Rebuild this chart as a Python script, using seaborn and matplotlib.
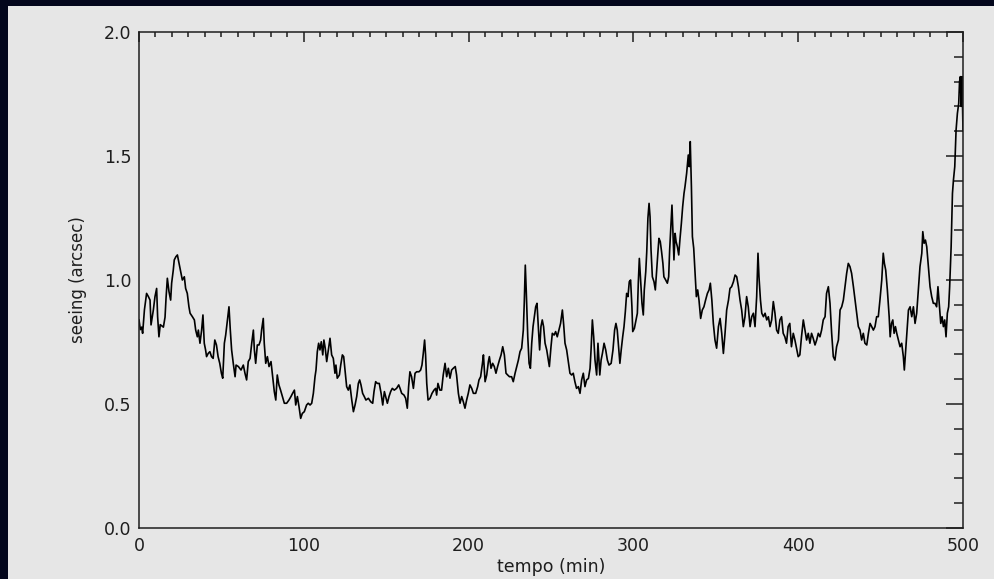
import matplotlib
matplotlib.use("Agg")
import matplotlib.pyplot as plt
from matplotlib.patches import Rectangle
from matplotlib.ticker import MultipleLocator, FixedLocator
import pandas as pd
import seaborn as sns

# ---------------- data ----------------
tempo_a = [0.0, 0.8, 1.6, 2.2, 3.3, 4.6, 5.7, 6.7, 7.3, 8.7,
           9.7, 10.7, 11.3, 12.1, 12.9, 14.8, 15.8, 16.4, 17.2, 18.2,
           19.2, 19.8, 20.8, 21.4, 22.4, 23.3, 24.3, 25.3, 26.3, 27.5,
           28.3, 29.3, 30.3, 31.0, 32.4, 33.6, 34.4, 35.4, 36.0, 37.0,
           38.0, 38.8, 39.6, 40.4, 41.0, 42.0, 43.0, 44.0, 45.0, 46.0,
           47.0, 48.0, 49.0, 50.0, 50.8, 51.8, 52.6, 53.8, 54.6, 55.4,
           56.2, 57.2, 58.3, 58.9, 60.3, 61.9, 63.3, 64.3, 65.3, 66.3,
           67.4, 68.4, 69.4, 70.0, 70.8, 71.8, 72.8, 73.8, 74.4, 75.4,
           76.0, 76.9, 77.9, 78.9, 80.1, 80.9, 82.1, 83.0, 83.9, 84.9,
           85.9, 87.0, 88.2, 89.6, 91.0, 92.2, 93.2, 94.3, 95.1, 96.1,
           97.1, 98.1, 99.1, 100.3]
seeing_a = [0.84, 0.80, 0.81, 0.785, 0.88, 0.946, 0.933, 0.919, 0.819, 0.879,
            0.933, 0.966, 0.852, 0.771, 0.82, 0.81, 0.85, 0.926, 1.007, 0.953,
            0.919, 0.987, 1.04, 1.081, 1.094, 1.101, 1.067, 1.034, 1.0, 1.013,
            0.966, 0.946, 0.892, 0.866, 0.852, 0.839, 0.798, 0.771, 0.798, 0.745,
            0.798, 0.859, 0.745, 0.718, 0.691, 0.704, 0.711, 0.691, 0.684, 0.758,
            0.738, 0.691, 0.664, 0.624, 0.604, 0.745, 0.778, 0.845, 0.892, 0.798,
            0.718, 0.664, 0.610, 0.657, 0.651, 0.637, 0.657, 0.624, 0.597, 0.671,
            0.684, 0.745, 0.798, 0.718, 0.664, 0.738, 0.738, 0.758, 0.798, 0.845,
            0.745, 0.664, 0.691, 0.651, 0.671, 0.624, 0.550, 0.516, 0.617, 0.577,
            0.556, 0.530, 0.503, 0.503, 0.516, 0.530, 0.543, 0.556, 0.496, 0.530,
            0.489, 0.442, 0.462, 0.469]

tempo_b = [101.7, 102.7, 103.8, 104.8, 105.8, 106.8, 107.4, 108.2, 109.0, 109.8,
           110.6, 111.5, 112.2, 113.0, 113.9, 114.9, 115.9, 116.9, 117.9, 118.9,
           119.5, 120.3, 121.6, 122.4, 123.4, 124.2, 125.0, 126.0, 127.0, 128.0,
           129.1, 130.1, 131.1, 132.1, 133.1, 133.9, 134.7, 135.7, 136.7, 137.7,
           139.2, 140.6, 141.8, 142.6, 143.6, 144.6, 145.8, 146.9, 147.9, 148.9,
           149.9, 150.7, 151.7, 152.7, 153.7, 154.9, 156.3, 157.6, 158.4, 159.4,
           160.8, 161.8, 162.8, 163.6, 164.4, 165.4, 166.5, 167.5, 168.5, 169.9,
           170.9, 171.7, 172.5, 173.3, 173.9, 174.6, 175.4, 176.6, 177.8, 179.0,
           180.0, 180.6, 181.4, 182.6, 183.6, 184.6, 185.7, 186.7, 187.7, 188.7,
           189.7, 190.7, 191.9, 192.7, 193.8, 194.8, 195.8, 196.8, 197.8, 198.8,
           199.8]
seeing_b = [0.496, 0.503, 0.496, 0.503, 0.543, 0.610, 0.637, 0.711, 0.745, 0.718,
            0.751, 0.698, 0.758, 0.725, 0.671, 0.718, 0.765, 0.698, 0.684, 0.624,
            0.657, 0.604, 0.617, 0.657, 0.698, 0.691, 0.637, 0.570, 0.556, 0.577,
            0.516, 0.469, 0.496, 0.530, 0.583, 0.597, 0.577, 0.543, 0.530, 0.516,
            0.523, 0.509, 0.503, 0.550, 0.590, 0.583, 0.583, 0.543, 0.496, 0.550,
            0.523, 0.503, 0.530, 0.550, 0.563, 0.556, 0.563, 0.577, 0.563, 0.543,
            0.536, 0.523, 0.483, 0.570, 0.630, 0.610, 0.563, 0.624, 0.630, 0.630,
            0.637, 0.657, 0.704, 0.758, 0.698, 0.583, 0.516, 0.523, 0.543, 0.556,
            0.563, 0.536, 0.583, 0.556, 0.556, 0.617, 0.664, 0.610, 0.644, 0.604,
            0.637, 0.644, 0.651, 0.617, 0.543, 0.503, 0.530, 0.509, 0.483, 0.516,
            0.543]

tempo_c = [200.8, 201.9, 202.9, 204.3, 205.5, 206.3, 207.3, 208.4, 209.0, 210.0,
           211.0, 212.0, 212.6, 213.6, 214.6, 215.6, 216.6, 217.6, 218.7, 219.7,
           220.7, 221.7, 222.7, 223.7, 224.8, 226.1, 227.1, 228.2, 229.2, 230.2,
           231.2, 232.2, 233.2, 233.8, 234.4, 235.0, 235.9, 236.7, 237.5, 238.3,
           239.1, 239.9, 240.7, 241.5, 242.3, 243.1, 243.9, 244.7, 245.5, 246.4,
           247.4, 248.4, 249.0, 250.0, 250.8, 251.9, 252.8, 253.8, 254.8, 255.8,
           256.9, 257.7, 258.5, 259.5, 260.5, 261.5, 262.5, 263.5, 264.5, 265.5,
           266.6, 267.6, 268.6, 269.6, 270.6, 271.6, 272.7, 273.7, 274.3, 275.1,
           275.9, 276.7, 277.7, 278.5, 279.6, 280.4, 281.2, 282.2, 283.2, 284.2,
           285.2, 286.5, 287.6, 288.6, 289.4, 290.2, 291.0, 291.8, 292.6, 293.5,
           294.3, 295.1, 295.9, 296.7, 297.5, 298.3]
seeing_c = [0.577, 0.563, 0.543, 0.543, 0.570, 0.597, 0.610, 0.664, 0.698, 0.590,
            0.617, 0.671, 0.691, 0.644, 0.664, 0.651, 0.624, 0.651, 0.677, 0.698,
            0.731, 0.698, 0.624, 0.617, 0.610, 0.610, 0.590, 0.624, 0.651, 0.677,
            0.711, 0.725, 0.798, 0.913, 1.060, 0.953, 0.771, 0.664, 0.644, 0.745,
            0.812, 0.852, 0.892, 0.906, 0.812, 0.718, 0.812, 0.839, 0.812, 0.745,
            0.718, 0.677, 0.651, 0.731, 0.785, 0.778, 0.792, 0.771, 0.798, 0.825,
            0.879, 0.819, 0.745, 0.718, 0.671, 0.624, 0.617, 0.624, 0.590, 0.563,
            0.570, 0.543, 0.597, 0.624, 0.570, 0.597, 0.603, 0.644, 0.718, 0.839,
            0.771, 0.677, 0.617, 0.745, 0.617, 0.677, 0.704, 0.745, 0.718, 0.677,
            0.657, 0.664, 0.718, 0.798, 0.825, 0.798, 0.731, 0.664, 0.718, 0.771,
            0.812, 0.872, 0.946, 0.933, 0.993, 1.0]

tempo_d = [299.1, 299.6, 300.6, 301.6, 302.4, 303.0, 303.6, 304.4, 305.2, 306.0,
           306.6, 307.5, 308.1, 308.8, 309.5, 310.1, 310.7, 311.5, 312.5, 313.3,
           314.1, 314.9, 315.5, 316.3, 317.1, 317.9, 318.5, 319.6, 320.6, 321.4,
           322.0, 322.8, 323.4, 324.0, 324.6, 325.3, 325.9, 326.7, 327.5, 328.3,
           329.1, 329.9, 330.7]
seeing_d = [0.892, 0.792, 0.805, 0.839, 0.866, 0.993, 1.087, 1.0, 0.906, 0.859,
            0.960, 1.034, 1.114, 1.249, 1.309, 1.255, 1.121, 1.013, 0.993, 0.960,
            1.040, 1.114, 1.168, 1.155, 1.114, 1.067, 1.013, 1.0, 0.987, 1.013,
            1.121, 1.228, 1.302, 1.188, 1.081, 1.188, 1.155, 1.134, 1.101, 1.168,
            1.228, 1.296, 1.349]

tempo_e = [331.3, 332.3, 333.3, 333.9, 334.5, 335.2, 335.8, 336.6, 337.4, 338.2,
           339.0, 339.8, 340.8, 341.8, 342.8, 343.8, 344.9, 345.9, 346.7, 347.6,
           348.5, 349.5, 350.5, 351.6, 352.6, 353.6, 354.6, 355.6, 356.6, 357.7,
           358.6, 359.6, 360.7, 361.7, 362.7, 363.7, 364.7, 365.7, 366.7, 367.7,
           368.7, 369.7, 370.8, 371.8, 372.8, 373.8, 374.8, 375.6, 376.2, 377.1,
           377.9, 378.9, 379.9, 380.9, 381.9, 382.9, 383.9, 384.9, 385.9, 386.9,
           387.9, 388.9, 389.9, 390.9, 391.9, 392.9, 393.9, 394.9, 395.9, 397.0,
           398.0, 399.0, 400.0, 401.0, 402.0, 403.1, 404.1, 405.1, 406.1, 407.1,
           408.1, 409.1, 410.2, 411.2, 412.2, 413.2, 414.2, 415.2, 416.3, 417.2,
           418.3, 419.3, 420.3, 421.3, 422.3, 423.3, 424.4, 425.4, 426.4, 427.4,
           428.4, 429.4, 430.4, 431.4, 432.4, 433.5, 434.5, 435.5, 436.5, 437.5,
           438.5, 439.5, 440.5, 441.6, 442.6, 443.6, 444.6, 445.6, 446.6, 447.6,
           448.6, 449.6, 450.7, 451.6, 452.3, 453.1, 454.1, 455.2, 455.8, 456.6,
           457.4, 458.2, 459.0, 459.8, 460.8, 461.8, 462.8, 463.8, 464.4, 465.1,
           465.9, 466.9, 467.9, 468.9, 469.9, 470.9, 471.9, 472.9, 473.9, 475.0,
           475.6, 476.4, 477.2, 478.0, 479.0, 480.0, 481.0, 482.0, 483.0, 484.0,
           484.8, 485.7, 486.5, 487.3, 488.1, 488.9, 489.7, 490.5, 491.3, 491.9,
           492.8, 493.6, 494.2, 495.0, 495.8, 496.6, 497.4, 497.9, 498.4, 498.9,
           499.4, 500.0]
seeing_e = [1.376, 1.430, 1.504, 1.457, 1.558, 1.376, 1.175, 1.128, 1.027, 0.933,
            0.960, 0.919, 0.845, 0.879, 0.892, 0.919, 0.946, 0.960, 0.987, 0.919,
            0.825, 0.758, 0.725, 0.812, 0.845, 0.785, 0.704, 0.785, 0.879, 0.919,
            0.966, 0.973, 0.993, 1.020, 1.013, 0.973, 0.919, 0.879, 0.812, 0.852,
            0.933, 0.892, 0.812, 0.852, 0.866, 0.812, 0.933, 1.108, 1.013, 0.919,
            0.866, 0.852, 0.866, 0.839, 0.852, 0.812, 0.839, 0.913, 0.866, 0.798,
            0.785, 0.839, 0.852, 0.785, 0.771, 0.745, 0.812, 0.825, 0.731, 0.785,
            0.758, 0.725, 0.691, 0.698, 0.771, 0.839, 0.798, 0.758, 0.785, 0.745,
            0.785, 0.765, 0.738, 0.758, 0.785, 0.771, 0.798, 0.839, 0.852, 0.946,
            0.973, 0.906, 0.785, 0.691, 0.677, 0.731, 0.758, 0.879, 0.892, 0.919,
            0.973, 1.027, 1.067, 1.054, 1.027, 0.973, 0.919, 0.866, 0.812, 0.798,
            0.758, 0.785, 0.745, 0.738, 0.785, 0.825, 0.812, 0.798, 0.812, 0.852,
            0.852, 0.919, 1.0, 1.108, 1.067, 1.040, 0.960, 0.852, 0.771, 0.825,
            0.839, 0.785, 0.812, 0.785, 0.758, 0.731, 0.745, 0.691, 0.637, 0.704,
            0.785, 0.879, 0.892, 0.852, 0.892, 0.825, 0.866, 0.960, 1.054, 1.108,
            1.195, 1.148, 1.161, 1.134, 1.054, 0.973, 0.933, 0.906, 0.906, 0.892,
            0.973, 0.892, 0.825, 0.852, 0.812, 0.839, 0.771, 0.866, 0.892, 0.973,
            1.134, 1.349, 1.403, 1.457, 1.605, 1.672, 1.712, 1.80, 1.82, 1.70,
            1.82, 1.60]

x_ticks = [0, 100, 200, 300, 400, 500]
x_tick_labels = ["0", "100", "200", "300", "400", "500"]
y_ticks = [0.0, 0.5, 1.0, 1.5, 2.0]
y_tick_labels = ["0.0", "0.5", "1.0", "1.5", "2.0"]
x_label = "tempo (min)"
y_label = "seeing (arcsec)"

tempo_min = tempo_a + tempo_b + tempo_c + tempo_d + tempo_e
seeing_arcsec = seeing_a + seeing_b + seeing_c + seeing_d + seeing_e
for a, b in [(tempo_a, seeing_a), (tempo_b, seeing_b), (tempo_c, seeing_c),
             (tempo_d, seeing_d), (tempo_e, seeing_e)]:
    assert len(a) == len(b), (len(a), len(b))

# ---------------- styling ----------------
sns.set_theme(style="white")
plt.rcParams["font.family"] = ["DejaVu Sans"]

W, H = 995, 579
PANEL = "#e6e6e6"
INK = "#1e1e1e"

fig = plt.figure(figsize=(W / 100, H / 100), dpi=100)
fig.patch.set_facecolor("#03061c")
fig.patches.append(Rectangle((8 / W, 0), 1, 1 - 6 / H, transform=fig.transFigure,
                             facecolor=PANEL, edgecolor="none", zorder=-5))

ax = fig.add_axes([139 / W, 1 - 528 / H, (963 - 139) / W, (528 - 32) / H])
ax.set_zorder(2)
ax.set_facecolor(PANEL)

df = pd.DataFrame({"tempo": tempo_min, "seeing": seeing_arcsec})
sns.lineplot(data=df, x="tempo", y="seeing", ax=ax, color="black",
             linewidth=1.2, estimator=None, sort=True)

ax.set_xlim(0, 500)
ax.set_ylim(0, 2.0)
ax.xaxis.set_major_locator(FixedLocator(x_ticks))
ax.set_xticklabels(x_tick_labels)
ax.yaxis.set_major_locator(FixedLocator(y_ticks))
ax.set_yticklabels(y_tick_labels)
ax.xaxis.set_minor_locator(MultipleLocator(10))
ax.yaxis.set_minor_locator(MultipleLocator(0.1))

ax.tick_params(axis="both", which="both", direction="in", top=True, right=True,
               width=1.1, color=INK, labelcolor=INK, labelsize=12.5)
ax.tick_params(axis="x", which="major", length=7.5, pad=6.5)
ax.tick_params(axis="x", which="minor", length=3.8)
ax.tick_params(axis="y", which="major", length=12.2, pad=5.5)
ax.tick_params(axis="y", which="minor", length=6.5)

for s in ax.spines.values():
    s.set_color(INK)
    s.set_linewidth(1.1)
    s.set_visible(True)

ax.set_xlabel(x_label, fontsize=12.5, color=INK, labelpad=2)
ax.set_ylabel(y_label, fontsize=12, color=INK, labelpad=12)
ax.grid(False)

fig.savefig("out.png", dpi=100, facecolor=fig.get_facecolor())
